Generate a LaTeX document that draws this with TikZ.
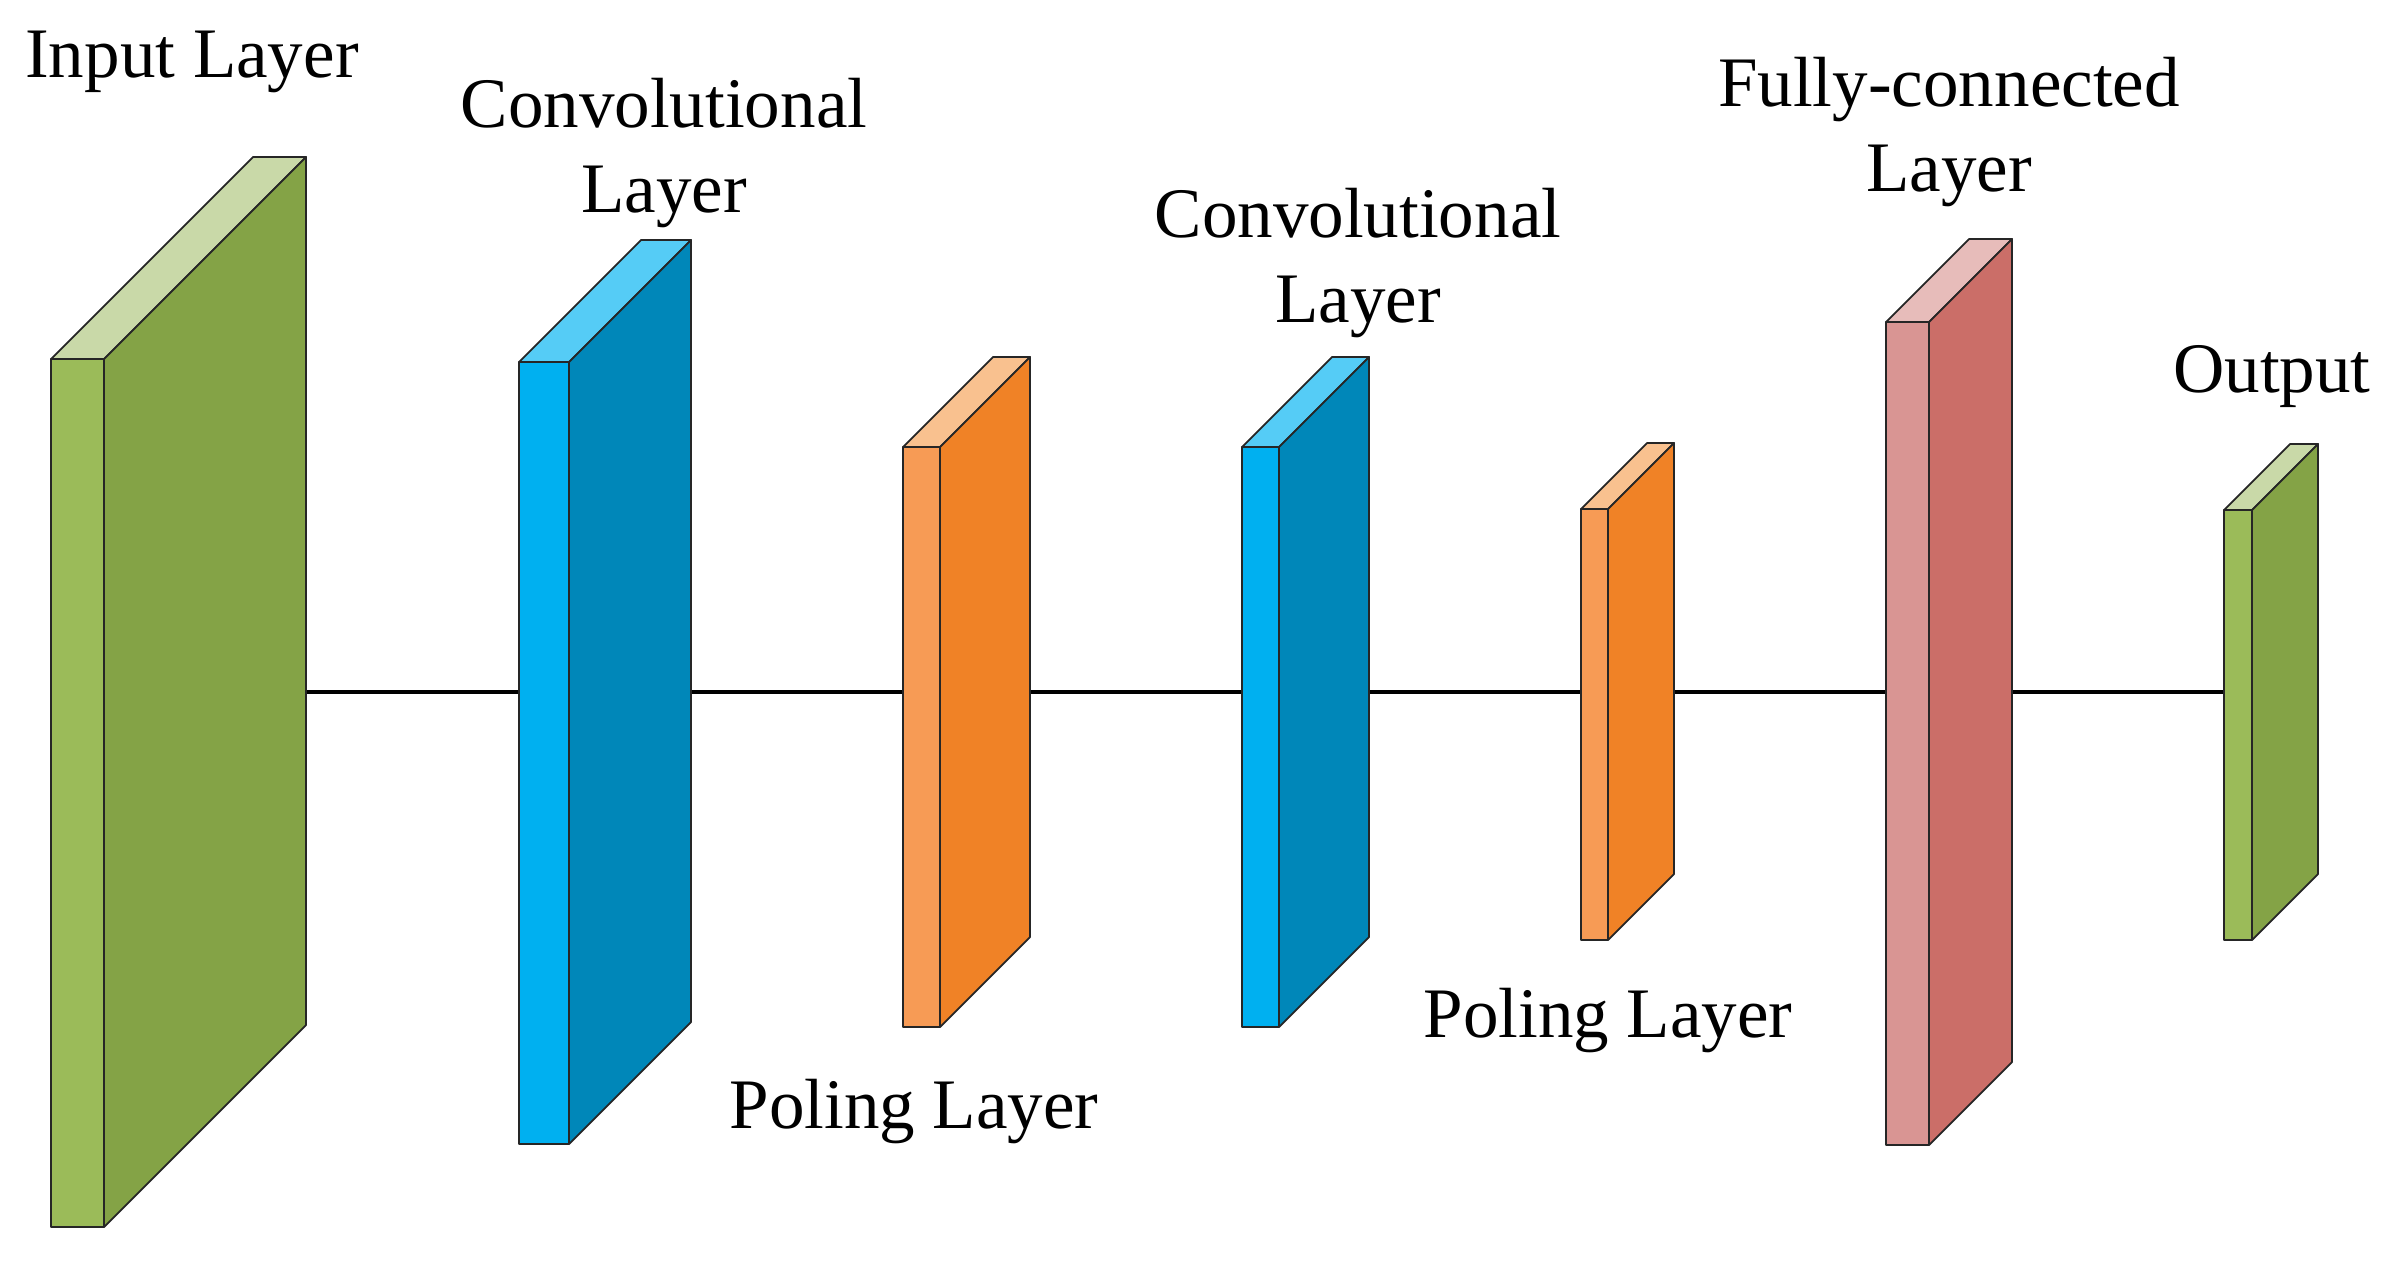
\documentclass[tikz,border=0pt]{standalone}
\usepackage{fontspec}
\setmainfont{Liberation Serif}
\usepackage{tikz}
\usetikzlibrary{calc}
\definecolor{greenfront}{HTML}{9BBB59}
\definecolor{greenside}{HTML}{84A346}
\definecolor{greentop}{HTML}{C9D9A8}
\definecolor{bluefront}{HTML}{00B0F0}
\definecolor{blueside}{HTML}{0087B9}
\definecolor{bluetop}{HTML}{55CCF6}
\definecolor{orangefront}{HTML}{F79B55}
\definecolor{orangeside}{HTML}{F08226}
\definecolor{orangetop}{HTML}{F9C18F}
\definecolor{redfront}{HTML}{D99593}
\definecolor{redside}{HTML}{CB6E68}
\definecolor{redtop}{HTML}{E7BCBA}
\tikzstyle{face} = [draw=black!85, line width=0.5pt, line join=round]
\tikzstyle{layertext} = [font=\fontsize{20.2}{23.9}\selectfont, align=center,
    anchor=base, inner sep=0pt]
\tikzstyle{line} = [draw, line width=1pt]
% #1 name, #2 left x, #3 front top y, #4 width, #5 height, #6 depth, #7 colour
\newcommand{\layerblock}[7]{%
  \filldraw[fill=#7front, face] (#2,#3) rectangle ++(#4,#5);
  \filldraw[fill=#7top, face] (#2,#3) -- ++(#6,-#6) -- ++(#4,0) -- ++(-#6,#6) -- cycle;
  \filldraw[fill=#7side, face] (#2+#4,#3) -- ++(#6,-#6) -- ++(0,#5) -- ++(-#6,#6) -- cycle;
  \coordinate (#1) at (#2,692);
}

\begin{document}
\begin{tikzpicture}[x=0.01cm, y=-0.01cm]
  \useasboundingbox (0,0) rectangle (2401,1266);
  % Place blocks
  \coordinate (input) at (51,692);
  \coordinate (out) at (2224,692);
  % Draw edges
  \path [line] (input) -- (out);
  \layerblock{input}{51}{359}{53}{868}{202}{green}
  \layerblock{conv1}{519}{362}{50}{782}{122}{blue}
  \layerblock{pool1}{903}{447}{37}{580}{90}{orange}
  \layerblock{conv2}{1242}{447}{37}{580}{90}{blue}
  \layerblock{pool2}{1581}{509}{27}{431}{66}{orange}
  \layerblock{fc}{1886}{322}{43}{823}{83}{red}
  \layerblock{out}{2224}{510}{28}{430}{66}{green}
  % Place labels (base = last line)
  \node [layertext] (input-text) at (192,77) {Input Layer};
  \node [layertext] (conv1-text) at (664,212) {Convolutional\\Layer};
  \node [layertext] (pool1-text) at (914,1128) {Poling Layer};
  \node [layertext] (conv2-text) at (1358,322) {Convolutional\\Layer};
  \node [layertext] (pool2-text) at (1608,1037) {Poling Layer};
  \node [layertext] (fc-text) at (1949,191) {Fully-connected\\Layer};
  \node [layertext] (out-text) at (2272,392) {Output};
\end{tikzpicture}
\end{document}
